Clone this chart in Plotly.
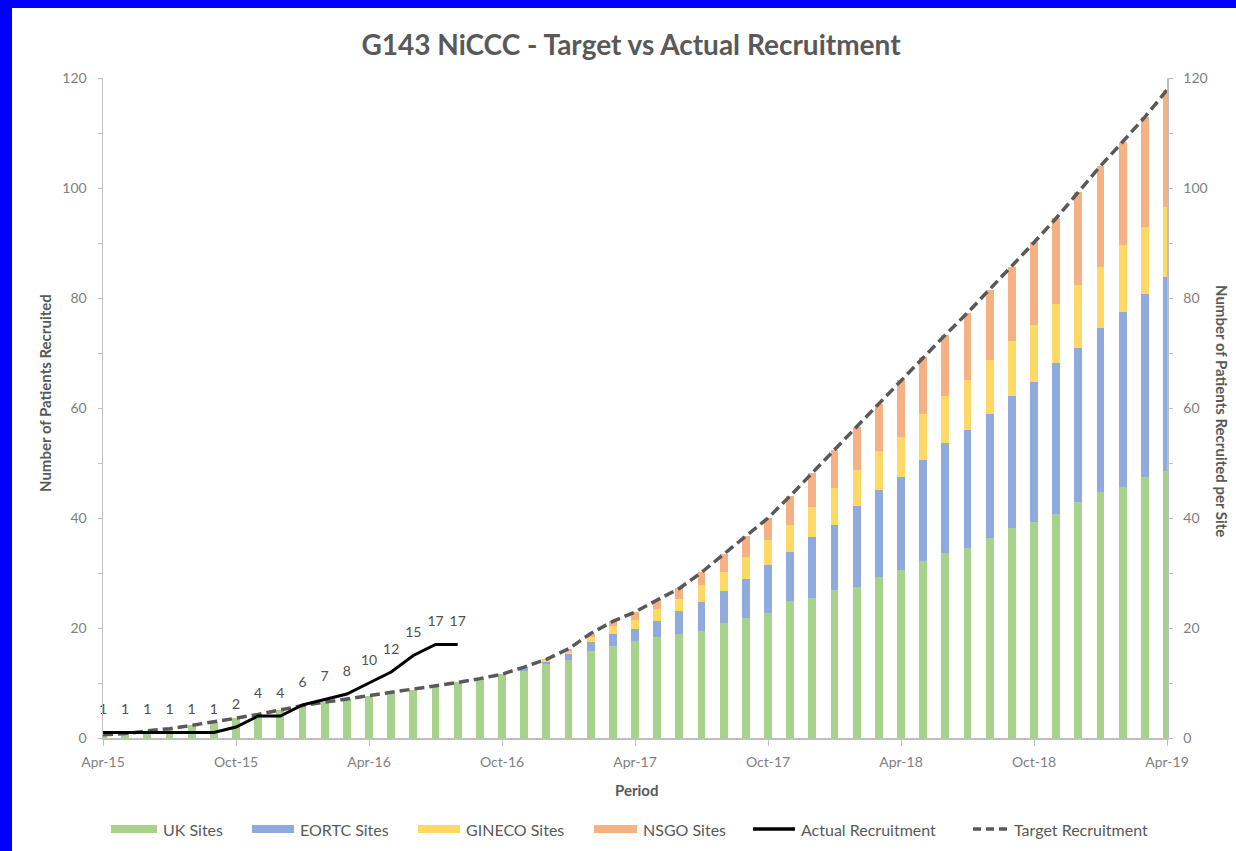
import plotly.graph_objects as go

# ---------------- data ----------------
months = ["Apr-15", "May-15", "Jun-15", "Jul-15", "Aug-15", "Sep-15", "Oct-15", "Nov-15", "Dec-15",
          "Jan-16", "Feb-16", "Mar-16", "Apr-16", "May-16", "Jun-16", "Jul-16", "Aug-16", "Sep-16",
          "Oct-16", "Nov-16", "Dec-16", "Jan-17", "Feb-17", "Mar-17", "Apr-17", "May-17", "Jun-17",
          "Jul-17", "Aug-17", "Sep-17", "Oct-17", "Nov-17", "Dec-17", "Jan-18", "Feb-18", "Mar-18",
          "Apr-18", "May-18", "Jun-18", "Jul-18", "Aug-18", "Sep-18", "Oct-18", "Nov-18", "Dec-18",
          "Jan-19", "Feb-19", "Mar-19", "Apr-19"]

tick_labels = ["Apr-15", "Oct-15", "Apr-16", "Oct-16", "Apr-17", "Oct-17", "Apr-18", "Oct-18", "Apr-19"]

uk_sites = [0.6, 0.8, 1.3, 1.7, 2.3, 2.9, 3.6, 4.3, 5.1, 5.9, 6.5, 7.1, 7.7, 8.2, 8.8, 9.4, 10.1, 10.8,
            11.6, 12.2, 13.4, 14.2, 15.8, 16.8, 17.6, 18.4, 18.9, 19.5, 21.0, 21.8, 22.7, 24.9, 25.5,
            26.9, 27.5, 29.3, 30.5, 32.1, 33.6, 34.5, 36.3, 38.1, 39.3, 40.8, 43.0, 44.8, 45.7, 47.5, 48.5]

eortc_sites = [0, 0, 0, 0, 0, 0, 0, 0, 0, 0, 0, 0, 0, 0, 0, 0, 0, 0, 0,
               0.5, 0.5, 1.0, 1.6, 2.2, 2.2, 2.9, 4.2, 5.3, 5.8, 7.2, 8.8, 9.0, 11.1, 11.9, 14.6,
               15.8, 17.0, 18.4, 20.0, 21.5, 22.7, 24.0, 25.5, 27.3, 27.9, 29.7, 31.8, 33.3, 35.4]

gineco_sites = [0, 0, 0, 0, 0, 0, 0, 0, 0, 0, 0, 0, 0, 0, 0, 0, 0, 0, 0,
                0.1, 0.2, 0.6, 1.0, 1.3, 1.7, 2.2, 2.1, 3.0, 3.4, 4.0, 4.5, 4.8, 5.4, 6.6, 6.6,
                7.0, 7.3, 8.5, 8.5, 9.1, 9.7, 10.0, 10.3, 10.9, 11.5, 11.2, 12.1, 12.2, 12.6]

nsgo_sites = [0, 0, 0, 0, 0, 0, 0, 0, 0, 0, 0, 0, 0, 0, 0, 0, 0, 0, 0,
              0.1, 0.2, 0.4, 0.6, 0.9, 1.4, 1.6, 2.0, 2.3, 3.2, 3.8, 4.0, 5.3, 6.1, 7.0, 7.9,
              8.7, 10.3, 10.3, 11.2, 12.2, 12.8, 13.6, 15.0, 15.5, 16.8, 18.3, 18.8, 19.9, 21.3]

target_recruitment = [0.6, 0.8, 1.3, 1.7, 2.3, 2.9, 3.6, 4.3, 5.1, 5.9, 6.5, 7.1, 7.7, 8.2, 8.8, 9.4,
                      10.1, 10.8, 11.6, 12.9, 14.3, 16.2, 19.0, 21.2, 22.9, 25.1, 27.2, 30.1, 33.4,
                      36.8, 40.0, 44.0, 48.1, 52.4, 56.6, 60.8, 65.1, 69.3, 73.3, 77.3, 81.5, 85.7,
                      90.1, 94.5, 99.2, 104.0, 108.4, 112.9, 117.8]

actual_months = months[:17]
actual_recruitment = [1, 1, 1, 1, 1, 1, 2, 4, 4, 6, 7, 8, 10, 12, 15, 17, 17]

# ---------------- styling ----------------
C_UK = "#A9D18E"
C_EORTC = "#8FAADC"
C_GINECO = "#FFD966"
C_NSGO = "#F4B183"
C_TARGET = "#595959"
C_ACTUAL = "#000000"
TXT = "#595959"
TICK = "#808080"
AXC = "#BFBFBF"
FONT = "Lato"

W, H = 1236, 851
L, R, T, B = 103, 1167, 78, 738


def px_x(px):
    return (px - L) / (R - L)


def px_y(py):
    return (B - py) / (B - T)


fig = go.Figure()

for name, vals, col in [("UK Sites", uk_sites, C_UK),
                        ("EORTC Sites", eortc_sites, C_EORTC),
                        ("GINECO Sites", gineco_sites, C_GINECO),
                        ("NSGO Sites", nsgo_sites, C_NSGO)]:
    fig.add_trace(go.Bar(x=months, y=vals, name=name, marker=dict(color=col, line=dict(width=0)),
                         showlegend=False))

fig.add_trace(go.Scatter(x=months, y=target_recruitment, name="Target Recruitment", mode="lines",
                         line=dict(color=C_TARGET, width=3.5, dash="10px,5px"), showlegend=False))

fig.add_trace(go.Scatter(x=actual_months, y=actual_recruitment, name="Actual Recruitment",
                         mode="lines+markers+text",
                         line=dict(color=C_ACTUAL, width=3),
                         marker=dict(size=22, color="rgba(0,0,0,0)"),
                         text=[str(v) for v in actual_recruitment], textposition="top center",
                         textfont=dict(family=FONT, size=14, color="#505050"),
                         cliponaxis=False, showlegend=False))

# invisible helper so the right-hand axis renders
fig.add_trace(go.Scatter(x=[months[0]], y=[0], yaxis="y2", mode="markers",
                         marker=dict(size=1, color="rgba(0,0,0,0)"), showlegend=False,
                         hoverinfo="skip"))

axis_common = dict(range=[0, 120], dtick=20, tick0=0, showgrid=False, zeroline=False,
                   showline=True, linecolor=AXC, linewidth=1.5,
                   ticks="outside", ticklen=4, tickcolor=AXC, tickwidth=1,
                   minor=dict(dtick=10, ticks="outside", ticklen=4, tickcolor=AXC, showgrid=False),
                   tickfont=dict(family=FONT, size=14, color=TICK),
                   ticklabelstandoff=8, fixedrange=True)

fig.update_layout(
    width=W, height=H,
    margin=dict(l=L, r=W - R, t=T, b=H - B, pad=0),
    paper_bgcolor="white", plot_bgcolor="white",
    barmode="stack", bargap=0.64,
    showlegend=False,
    title=dict(text="<b>G143 NiCCC - Target vs Actual Recruitment</b>",
               x=px_x(631), xref="paper", xanchor="center",
               y=1 - 45 / H, yref="container", yanchor="middle",
               font=dict(family=FONT, size=28, color=TXT)),
    xaxis=dict(type="category", categoryorder="array", categoryarray=months,
               range=[0, len(months) - 1], tickvals=tick_labels, ticktext=tick_labels,
               showgrid=False, zeroline=False, showline=True, linecolor=AXC, linewidth=1.5,
               ticks="outside", ticklen=6, tickcolor=AXC,
               tickfont=dict(family=FONT, size=14, color=TICK),
               ticklabelstandoff=5, fixedrange=True),
    yaxis=dict(**axis_common, side="left"),
    yaxis2=dict(**axis_common, side="right", overlaying="y"),
)

annotations = [
    dict(text="<b>Number of Patients Recruited</b>", x=px_x(45), y=px_y(393), xref="paper", yref="paper",
         textangle=-90, showarrow=False, xanchor="center", yanchor="middle",
         font=dict(family=FONT, size=15, color=TXT)),
    dict(text="<b>Number of Patients Recruited per Site</b>", x=px_x(1222), y=px_y(411), xref="paper",
         yref="paper", textangle=90, showarrow=False, xanchor="center", yanchor="middle",
         font=dict(family=FONT, size=15, color=TXT)),
    dict(text="<b>Period</b>", x=px_x(636), y=px_y(790), xref="paper", yref="paper", showarrow=False,
         xanchor="center", yanchor="middle", font=dict(family=FONT, size=15, color=TXT)),
]

shapes = [
    # blue frame (left and top)
    dict(type="rect", xref="paper", yref="paper", x0=px_x(0), x1=px_x(12), y0=px_y(H), y1=px_y(0),
         fillcolor="#0000FF", line=dict(width=0), layer="above"),
    dict(type="rect", xref="paper", yref="paper", x0=px_x(0), x1=px_x(W), y0=px_y(8), y1=px_y(0),
         fillcolor="#0000FF", line=dict(width=0), layer="above"),
]

# custom legend
ly = 829
legend_items = [
    ("UK Sites", "bar", C_UK, 111, 157),
    ("EORTC Sites", "bar", C_EORTC, 252, 294),
    ("GINECO Sites", "bar", C_GINECO, 418, 460),
    ("NSGO Sites", "bar", C_NSGO, 594, 637),
    ("Actual Recruitment", "line", C_ACTUAL, 753, 795),
    ("Target Recruitment", "dash", C_TARGET, 973, 1008),
]
for name, kind, col, x0, x1 in legend_items:
    if kind == "bar":
        shapes.append(dict(type="rect", xref="paper", yref="paper", x0=px_x(x0), x1=px_x(x1),
                           y0=px_y(ly + 4), y1=px_y(ly - 4), fillcolor=col, line=dict(width=0)))
    else:
        shapes.append(dict(type="line", xref="paper", yref="paper", x0=px_x(x0), x1=px_x(x1),
                           y0=px_y(ly), y1=px_y(ly),
                           line=dict(color=col, width=3.5,
                                     dash="8px,5px" if kind == "dash" else "solid")))
    annotations.append(dict(text=name, x=px_x(x1 + 4), y=px_y(ly), xref="paper", yref="paper",
                            showarrow=False, xanchor="left", yanchor="middle",
                            font=dict(family=FONT, size=16, color=TXT)))

fig.update_layout(shapes=shapes, annotations=annotations)

fig.write_html("out.html",
               config={"displayModeBar": False, "staticPlot": True},
               post_script="document.body.style.margin='0px';document.body.style.overflow='hidden';")
